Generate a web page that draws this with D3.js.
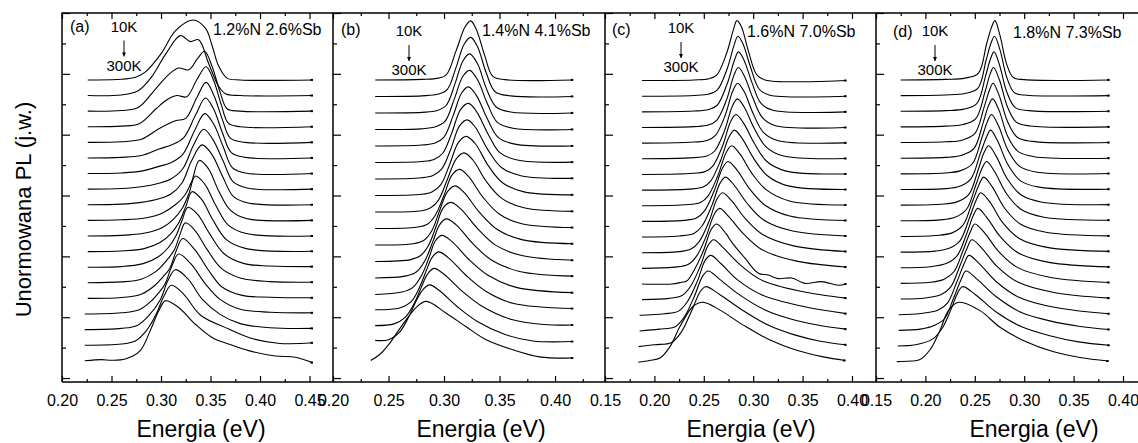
<!DOCTYPE html>
<html>
<head>
<meta charset="utf-8">
<script src="https://cdn.jsdelivr.net/npm/d3@7"></script>
<style>
  body { margin: 0; background: #fff; }
  svg { display: block; }
</style>
</head>
<body>
<script>
// ---- dane ----
const panelLetters = ["(a)", "(b)", "(c)", "(d)"];
const panelSamples = ["1.2%N 2.6%Sb", "1.4%N 4.1%Sb", "1.6%N 7.0%Sb", "1.8%N 7.3%Sb"];
const tempTop = "10K", tempBottom = "300K";
const xTitle = "Energia (eV)", yTitle = "Unormowana PL (j.w.)";

const ticksA = [0.20, 0.25, 0.30, 0.35, 0.40, 0.45];
const minorA = [0.225, 0.275, 0.325, 0.375, 0.425];
const ticksB = [0.20, 0.25, 0.30, 0.35, 0.40];
const minorB = [0.225, 0.275, 0.325, 0.375, 0.425];
const ticksC = [0.15, 0.20, 0.25, 0.30, 0.35, 0.40];
const minorC = [0.175, 0.225, 0.275, 0.325, 0.375];
const ticksD = [0.15, 0.20, 0.25, 0.30, 0.35, 0.40];
const minorD = [0.175, 0.225, 0.275, 0.325, 0.375, 0.425];
const ticksY = [0, 1, 2, 3, 4, 5, 6, 7, 8, 9, 10, 11, 12];

// widma [energia eV, intensywnosc znormalizowana], od 10K (gora) do 300K (dol)
const specA = [
  [[0.226,0],[0.26,0.01],[0.275,0.05],[0.284,0.13],[0.301,0.46],[0.3145,0.82],[0.3323,1],[0.345,0.86],[0.352,0.55],[0.358,0.24],[0.3667,0.03],[0.38,0],[0.453,0]],
  [[0.226,0],[0.26,0.01],[0.277,0.08],[0.29,0.3],[0.305,0.7],[0.3195,1],[0.3296,0.9],[0.338,0.93],[0.348,0.54],[0.358,0.16],[0.365,0.03],[0.38,0],[0.453,0]],
  [[0.226,0],[0.26,0.01],[0.277,0.06],[0.294,0.36],[0.3077,0.61],[0.3178,0.72],[0.328,0.69],[0.337,0.88],[0.344,1],[0.3515,0.75],[0.36,0.3],[0.3667,0.04],[0.38,0],[0.453,0]],
  [[0.226,0],[0.26,0.01],[0.278,0.05],[0.295,0.3],[0.306,0.45],[0.316,0.52],[0.326,0.5],[0.336,0.78],[0.3455,1],[0.353,0.78],[0.361,0.36],[0.368,0.06],[0.38,0],[0.453,0]],
  [[0.226,0],[0.26,0.01],[0.28,0.05],[0.297,0.22],[0.3145,0.36],[0.325,0.4],[0.336,0.74],[0.3455,1],[0.353,0.8],[0.362,0.38],[0.37,0.07],[0.385,0],[0.453,0]],
  [[0.226,0],[0.26,0.01],[0.28,0.04],[0.298,0.15],[0.311,0.22],[0.323,0.34],[0.335,0.72],[0.3448,1],[0.353,0.82],[0.362,0.42],[0.371,0.09],[0.385,0.01],[0.453,0]],
  [[0.226,0],[0.26,0.01],[0.28,0.04],[0.298,0.12],[0.31,0.18],[0.322,0.32],[0.334,0.72],[0.3441,1],[0.353,0.83],[0.363,0.44],[0.372,0.1],[0.385,0.01],[0.453,0]],
  [[0.226,0],[0.26,0.01],[0.28,0.04],[0.298,0.1],[0.31,0.17],[0.322,0.34],[0.333,0.74],[0.3431,1],[0.352,0.84],[0.363,0.46],[0.373,0.12],[0.387,0.02],[0.453,0]],
  [[0.226,0],[0.26,0.01],[0.28,0.04],[0.298,0.1],[0.31,0.18],[0.321,0.36],[0.331,0.74],[0.3414,1],[0.351,0.85],[0.362,0.48],[0.373,0.14],[0.388,0.03],[0.453,0]],
  [[0.226,0],[0.26,0.01],[0.284,0.04],[0.301,0.12],[0.3145,0.26],[0.324,0.42],[0.331,0.65],[0.3387,1],[0.348,0.86],[0.358,0.5],[0.37,0.17],[0.386,0.03],[0.453,0]],
  [[0.226,0],[0.26,0.01],[0.284,0.05],[0.3,0.13],[0.312,0.27],[0.321,0.45],[0.328,0.7],[0.3347,1],[0.344,0.87],[0.355,0.52],[0.368,0.18],[0.386,0.04],[0.453,0]],
  [[0.226,0],[0.26,0.01],[0.283,0.05],[0.299,0.15],[0.31,0.3],[0.318,0.48],[0.325,0.75],[0.3313,1],[0.341,0.87],[0.352,0.54],[0.366,0.2],[0.386,0.05],[0.453,0.005]],
  [[0.226,0],[0.26,0.01],[0.282,0.06],[0.297,0.17],[0.307,0.32],[0.315,0.52],[0.321,0.77],[0.3273,1],[0.337,0.88],[0.349,0.56],[0.364,0.22],[0.384,0.06],[0.41,0.02],[0.453,0.01]],
  [[0.226,0],[0.26,0.015],[0.28,0.06],[0.295,0.19],[0.306,0.38],[0.3135,0.55],[0.319,0.8],[0.3246,1],[0.334,0.88],[0.346,0.57],[0.361,0.24],[0.38,0.08],[0.41,0.02],[0.453,0.01]],
  [[0.226,0],[0.26,0.015],[0.28,0.07],[0.294,0.22],[0.302,0.36],[0.3088,0.5],[0.3155,0.8],[0.3219,1],[0.3347,0.8],[0.348,0.47],[0.3616,0.19],[0.382,0.05],[0.41,0.02],[0.453,0.01]],
  [[0.223,0],[0.26,0.02],[0.278,0.07],[0.291,0.23],[0.298,0.36],[0.304,0.5],[0.311,0.8],[0.3178,1],[0.33,0.84],[0.345,0.5],[0.36,0.24],[0.38,0.08],[0.41,0.03],[0.453,0.02]],
  [[0.223,0],[0.26,0.02],[0.276,0.07],[0.288,0.24],[0.2993,0.5],[0.307,0.82],[0.3145,1],[0.327,0.85],[0.342,0.5],[0.36,0.25],[0.38,0.1],[0.41,0.03],[0.453,0.02]],
  [[0.223,0],[0.26,0.02],[0.274,0.07],[0.285,0.24],[0.2946,0.5],[0.303,0.82],[0.3104,1],[0.323,0.85],[0.34,0.5],[0.3684,0.27],[0.39,0.12],[0.42,0.03],[0.453,0.04]],
  [[0.223,0],[0.24,0.02],[0.25,0.01],[0.264,0.03],[0.279,0.17],[0.289,0.5],[0.2976,0.83],[0.3044,1],[0.3178,0.89],[0.3347,0.61],[0.3515,0.39],[0.3684,0.28],[0.3886,0.17],[0.4155,0.08],[0.4357,0.06],[0.453,-0.03]]
];

const specB = [
  [[0.238,0],[0.28,0.01],[0.295,0.03],[0.302,0.085],[0.311,0.5],[0.319,0.9],[0.324,1],[0.329,0.86],[0.337,0.39],[0.344,0.06],[0.355,0.005],[0.416,0]],
  [[0.238,0],[0.28,0.01],[0.295,0.04],[0.303,0.12],[0.311,0.5],[0.318,0.88],[0.324,1],[0.33,0.85],[0.338,0.4],[0.346,0.08],[0.36,0.01],[0.416,0]],
  [[0.238,0],[0.28,0.01],[0.294,0.04],[0.302,0.13],[0.31,0.5],[0.317,0.88],[0.323,1],[0.33,0.84],[0.338,0.42],[0.347,0.1],[0.36,0.015],[0.416,0]],
  [[0.238,0],[0.28,0.01],[0.293,0.05],[0.301,0.14],[0.309,0.5],[0.317,0.9],[0.323,1],[0.33,0.85],[0.339,0.44],[0.348,0.12],[0.362,0.02],[0.416,0]],
  [[0.238,0],[0.28,0.015],[0.292,0.05],[0.3,0.15],[0.308,0.5],[0.316,0.9],[0.322,1],[0.329,0.86],[0.339,0.46],[0.349,0.14],[0.364,0.03],[0.416,0]],
  [[0.238,0],[0.28,0.015],[0.291,0.05],[0.299,0.16],[0.307,0.5],[0.315,0.9],[0.322,1],[0.329,0.87],[0.34,0.47],[0.35,0.17],[0.366,0.04],[0.416,0.005]],
  [[0.238,0],[0.28,0.02],[0.29,0.06],[0.298,0.17],[0.306,0.5],[0.314,0.9],[0.321,1],[0.328,0.88],[0.34,0.48],[0.352,0.19],[0.37,0.05],[0.416,0.01]],
  [[0.238,0],[0.28,0.02],[0.289,0.06],[0.297,0.18],[0.305,0.52],[0.313,0.9],[0.32,1],[0.328,0.88],[0.34,0.5],[0.353,0.21],[0.372,0.06],[0.416,0.01]],
  [[0.238,0],[0.28,0.02],[0.288,0.07],[0.295,0.2],[0.303,0.55],[0.311,0.9],[0.318,1],[0.326,0.88],[0.338,0.52],[0.352,0.23],[0.372,0.07],[0.416,0.01]],
  [[0.238,0],[0.275,0.02],[0.285,0.07],[0.292,0.22],[0.3,0.56],[0.307,0.9],[0.314,1],[0.322,0.88],[0.335,0.53],[0.35,0.24],[0.37,0.08],[0.416,0.015]],
  [[0.238,0],[0.272,0.02],[0.282,0.08],[0.289,0.24],[0.296,0.58],[0.303,0.9],[0.31,1],[0.318,0.89],[0.332,0.55],[0.348,0.26],[0.37,0.09],[0.416,0.02]],
  [[0.238,0],[0.27,0.03],[0.279,0.1],[0.286,0.27],[0.293,0.6],[0.299,0.9],[0.306,1],[0.315,0.89],[0.33,0.56],[0.346,0.28],[0.37,0.1],[0.416,0.02]],
  [[0.238,0],[0.265,0.03],[0.275,0.1],[0.283,0.3],[0.29,0.62],[0.296,0.9],[0.302,1],[0.311,0.9],[0.326,0.58],[0.343,0.3],[0.368,0.11],[0.416,0.03]],
  [[0.238,0],[0.262,0.04],[0.272,0.12],[0.28,0.33],[0.287,0.65],[0.292,0.9],[0.298,1],[0.307,0.9],[0.322,0.6],[0.34,0.32],[0.365,0.12],[0.416,0.03]],
  [[0.238,0.02],[0.26,0.05],[0.27,0.15],[0.277,0.36],[0.284,0.68],[0.289,0.9],[0.295,1],[0.304,0.9],[0.32,0.6],[0.338,0.33],[0.362,0.13],[0.416,0.04]],
  [[0.238,0.03],[0.255,0.06],[0.265,0.17],[0.273,0.4],[0.28,0.7],[0.285,0.9],[0.291,1],[0.3,0.9],[0.316,0.62],[0.335,0.35],[0.36,0.14],[0.39,0.05],[0.416,0.04]],
  [[0.238,0.06],[0.25,0.07],[0.26,0.2],[0.268,0.45],[0.275,0.73],[0.281,0.92],[0.287,1],[0.296,0.9],[0.312,0.63],[0.33,0.38],[0.355,0.16],[0.38,0.05],[0.416,0.04]],
  [[0.234,0],[0.242,0.1],[0.251,0.29],[0.258,0.48],[0.266,0.69],[0.275,0.9],[0.284,1],[0.302,0.8],[0.32,0.57],[0.338,0.35],[0.362,0.18],[0.386,0.06],[0.416,0.04]]
];

const specC = [
  [[0.1875,0],[0.24,0.01],[0.255,0.03],[0.263,0.09],[0.273,0.45],[0.28,0.85],[0.2835,1],[0.288,0.9],[0.295,0.5],[0.3035,0.1],[0.312,0.01],[0.394,0]],
  [[0.1875,0],[0.24,0.012],[0.255,0.035],[0.2635,0.1],[0.2735,0.45],[0.2808,0.86],[0.2845,1],[0.2895,0.88],[0.297,0.5],[0.306,0.12],[0.316,0.02],[0.394,0]],
  [[0.1875,0],[0.24,0.013],[0.255,0.04],[0.2635,0.11],[0.2735,0.46],[0.281,0.86],[0.285,1],[0.2905,0.87],[0.2985,0.5],[0.308,0.14],[0.32,0.025],[0.394,0]],
  [[0.1875,0],[0.24,0.014],[0.2545,0.04],[0.263,0.12],[0.273,0.46],[0.2805,0.87],[0.285,1],[0.291,0.86],[0.2995,0.5],[0.3095,0.16],[0.3225,0.03],[0.394,0]],
  [[0.1875,0],[0.235,0.014],[0.2533,0.045],[0.2618,0.13],[0.2718,0.47],[0.2793,0.87],[0.2843,1],[0.2908,0.86],[0.2998,0.5],[0.3103,0.18],[0.3253,0.04],[0.394,0.005]],
  [[0.1875,0],[0.235,0.015],[0.253,0.045],[0.261,0.13],[0.271,0.47],[0.2787,0.87],[0.284,1],[0.291,0.86],[0.301,0.51],[0.313,0.2],[0.33,0.05],[0.394,0.005]],
  [[0.1875,0],[0.235,0.015],[0.2516,0.05],[0.2591,0.14],[0.2691,0.48],[0.2771,0.88],[0.2826,1],[0.2901,0.86],[0.3011,0.52],[0.3136,0.22],[0.3326,0.06],[0.394,0.008]],
  [[0.1875,0],[0.235,0.016],[0.2494,0.05],[0.2569,0.15],[0.2669,0.49],[0.2754,0.88],[0.2809,1],[0.2889,0.86],[0.3004,0.53],[0.3144,0.24],[0.3354,0.07],[0.394,0.01]],
  [[0.1875,0],[0.23,0.016],[0.2467,0.055],[0.2542,0.16],[0.2642,0.5],[0.2727,0.89],[0.2782,1],[0.2867,0.86],[0.2987,0.54],[0.3137,0.26],[0.3367,0.08],[0.394,0.012]],
  [[0.1875,0],[0.23,0.017],[0.2425,0.055],[0.2505,0.17],[0.2605,0.51],[0.269,0.89],[0.2745,1],[0.2835,0.86],[0.296,0.55],[0.312,0.27],[0.337,0.09],[0.394,0.015]],
  [[0.1875,0],[0.225,0.018],[0.24,0.06],[0.248,0.18],[0.258,0.52],[0.2665,0.9],[0.272,1],[0.281,0.86],[0.294,0.56],[0.311,0.28],[0.34,0.1],[0.394,0.017]],
  [[0.1875,0],[0.225,0.018],[0.237,0.06],[0.2455,0.19],[0.2555,0.53],[0.2635,0.9],[0.269,1],[0.2785,0.86],[0.292,0.57],[0.31,0.3],[0.342,0.11],[0.394,0.02]],
  [[0.1875,0],[0.22,0.02],[0.234,0.065],[0.2425,0.2],[0.2525,0.54],[0.2605,0.9],[0.266,1],[0.2755,0.86],[0.29,0.58],[0.309,0.31],[0.344,0.12],[0.394,0.022]],
  [[0.1875,0],[0.2175,0],[0.2276,0.03],[0.2327,0.05],[0.2395,0.21],[0.2495,0.55],[0.2575,0.91],[0.263,1],[0.2725,0.84],[0.2782,0.7],[0.2917,0.43],[0.3052,0.18],[0.3153,0.15],[0.3254,0.09],[0.3389,0.1],[0.3524,0.01],[0.3693,0.04],[0.3862,-0.02],[0.394,0]],
  [[0.1875,0],[0.215,0.022],[0.228,0.07],[0.2365,0.22],[0.2465,0.56],[0.2545,0.91],[0.26,1],[0.27,0.86],[0.2855,0.6],[0.308,0.33],[0.348,0.14],[0.394,0.026]],
  [[0.185,0],[0.21,0.025],[0.2245,0.07],[0.2335,0.23],[0.2435,0.57],[0.2515,0.92],[0.257,1],[0.2675,0.86],[0.2835,0.6],[0.309,0.34],[0.35,0.15],[0.394,0.028]],
  [[0.185,0],[0.205,0.03],[0.221,0.07],[0.2305,0.24],[0.2405,0.58],[0.249,0.92],[0.2545,1],[0.2655,0.87],[0.2855,0.61],[0.312,0.35],[0.338,0.2],[0.365,0.1],[0.394,0.03]],
  [[0.184,0],[0.2,0.03],[0.2175,0.07],[0.2275,0.25],[0.2375,0.59],[0.2465,0.92],[0.252,1],[0.266,0.87],[0.288,0.62],[0.315,0.36],[0.341,0.2],[0.368,0.09],[0.394,0.03]],
  [[0.1837,0],[0.195,0.03],[0.2057,0.07],[0.2158,0.26],[0.226,0.6],[0.239,0.93],[0.2495,1],[0.2664,0.87],[0.29,0.62],[0.317,0.37],[0.344,0.2],[0.371,0.09],[0.393,0.03]]
];

const specD = [
  [[0.175,0],[0.22,0.01],[0.24,0.03],[0.2535,0.11],[0.262,0.61],[0.267,0.89],[0.2704,1],[0.2755,0.75],[0.282,0.28],[0.289,0.04],[0.3,0.005],[0.386,0]],
  [[0.175,0],[0.22,0.01],[0.24,0.035],[0.253,0.12],[0.2615,0.6],[0.2665,0.89],[0.27,1],[0.2755,0.77],[0.2825,0.3],[0.29,0.05],[0.3,0.01],[0.386,0]],
  [[0.175,0],[0.22,0.01],[0.239,0.035],[0.252,0.13],[0.261,0.6],[0.266,0.89],[0.2695,1],[0.275,0.78],[0.2825,0.32],[0.291,0.06],[0.305,0.01],[0.386,0]],
  [[0.175,0],[0.22,0.012],[0.238,0.04],[0.251,0.14],[0.2605,0.6],[0.2655,0.89],[0.269,1],[0.275,0.79],[0.283,0.34],[0.292,0.08],[0.306,0.015],[0.386,0]],
  [[0.175,0],[0.22,0.012],[0.237,0.04],[0.25,0.15],[0.2595,0.6],[0.265,0.89],[0.2685,1],[0.2745,0.8],[0.283,0.36],[0.293,0.09],[0.308,0.02],[0.386,0]],
  [[0.175,0],[0.22,0.013],[0.236,0.045],[0.249,0.16],[0.2585,0.6],[0.264,0.89],[0.268,1],[0.2745,0.81],[0.283,0.38],[0.294,0.11],[0.31,0.025],[0.386,0]],
  [[0.175,0],[0.22,0.014],[0.235,0.05],[0.2475,0.17],[0.257,0.6],[0.263,0.89],[0.267,1],[0.274,0.81],[0.2835,0.4],[0.295,0.13],[0.312,0.03],[0.386,0.005]],
  [[0.175,0],[0.22,0.015],[0.234,0.05],[0.246,0.18],[0.2555,0.6],[0.262,0.89],[0.266,1],[0.273,0.82],[0.2835,0.42],[0.296,0.15],[0.315,0.04],[0.386,0.005]],
  [[0.175,0],[0.215,0.015],[0.232,0.055],[0.244,0.18],[0.2535,0.6],[0.2595,0.89],[0.264,1],[0.2715,0.83],[0.283,0.44],[0.297,0.17],[0.318,0.05],[0.386,0.008]],
  [[0.175,0],[0.215,0.016],[0.23,0.06],[0.2415,0.19],[0.251,0.6],[0.2575,0.89],[0.262,1],[0.27,0.83],[0.282,0.46],[0.297,0.19],[0.32,0.06],[0.386,0.01]],
  [[0.175,0],[0.21,0.016],[0.227,0.06],[0.238,0.19],[0.2475,0.58],[0.2545,0.88],[0.259,1],[0.2675,0.84],[0.28,0.48],[0.296,0.21],[0.322,0.07],[0.386,0.01]],
  [[0.175,0],[0.21,0.017],[0.224,0.065],[0.235,0.19],[0.2445,0.57],[0.2515,0.88],[0.256,1],[0.265,0.85],[0.278,0.5],[0.295,0.23],[0.323,0.08],[0.386,0.012]],
  [[0.175,0],[0.205,0.018],[0.221,0.07],[0.232,0.2],[0.2415,0.56],[0.2485,0.88],[0.253,1],[0.262,0.85],[0.276,0.52],[0.294,0.25],[0.325,0.09],[0.386,0.014]],
  [[0.175,0],[0.205,0.018],[0.219,0.07],[0.229,0.2],[0.238,0.55],[0.2455,0.87],[0.25,1],[0.2595,0.86],[0.274,0.54],[0.293,0.27],[0.327,0.1],[0.386,0.015]],
  [[0.175,0],[0.2,0.018],[0.216,0.075],[0.2255,0.2],[0.2345,0.54],[0.2425,0.87],[0.247,1],[0.257,0.86],[0.2725,0.55],[0.293,0.29],[0.33,0.11],[0.386,0.016]],
  [[0.173,0],[0.195,0.02],[0.213,0.08],[0.2225,0.2],[0.2315,0.54],[0.2395,0.87],[0.244,1],[0.2545,0.86],[0.2715,0.56],[0.294,0.3],[0.332,0.12],[0.386,0.016]],
  [[0.173,0],[0.195,0.02],[0.21,0.09],[0.2195,0.2],[0.2285,0.54],[0.2365,0.87],[0.241,1],[0.2525,0.86],[0.2715,0.57],[0.296,0.31],[0.326,0.16],[0.355,0.07],[0.386,0.015]],
  [[0.172,0],[0.19,0.02],[0.2075,0.12],[0.217,0.3],[0.2255,0.6],[0.232,0.87],[0.2375,1],[0.251,0.86],[0.272,0.57],[0.298,0.32],[0.327,0.17],[0.355,0.07],[0.386,0.012]],
  [[0.171,0],[0.185,0.01],[0.194,0.03],[0.2047,0.2],[0.2148,0.53],[0.2233,0.86],[0.2337,1],[0.2553,0.86],[0.2755,0.58],[0.3025,0.33],[0.329,0.17],[0.3565,0.07],[0.385,0.01]]
];

// ---- uklad ----
const width = 1138, height = 443;
const frameTop = 13, frameBottom = 382;
const font = "Arial, 'Liberation Sans', sans-serif";

const panels = [
  { spec: specA, ticks: ticksA, minor: minorA, left: 62,  right: 333,  e0: 0.20, e1: 0.4737,
    base: 9.80, step: 0.513, amp: 1.97, letterX: 70,  topY: 31.5, sampleX: 213,  sampleY: 35, tempX: 124, tempY: 31.5, titleX: 201 },
  { spec: specB, ticks: ticksB, minor: minorB, left: 333, right: 605,  e0: 0.20, e1: 0.445,
    base: 9.80, step: 0.5424, amp: 1.94, letterX: 341, topY: 35,   sampleX: 482,  sampleY: 36, tempX: 409, tempY: 36,   titleX: 481 },
  { spec: specC, ticks: ticksC, minor: minorC, left: 605, right: 876,  e0: 0.15, e1: 0.4243,
    base: 9.78, step: 0.5145, amp: 1.97, letterX: 612, topY: 35,   sampleX: 747,  sampleY: 37, tempX: 681, tempY: 33,   titleX: 751 },
  { spec: specD, ticks: ticksD, minor: minorD, left: 876, right: 1147, e0: 0.15, e1: 0.4243,
    base: 9.80, step: 0.5145, amp: 1.95, letterX: 893, topY: 37,   sampleX: 1013, sampleY: 38, tempX: 935, tempY: 36,   titleX: 1034 }
];

const svg = d3.select("body").append("svg")
  .attr("width", width)
  .attr("height", height)
  .attr("viewBox", [0, 0, width, height])
  .style("font-family", font);

const y = d3.scaleLinear([-0.13, 12.0], [frameBottom, frameTop]);

svg.append("defs").append("marker")
  .attr("id", "arrowHead")
  .attr("viewBox", [0, 0, 10, 10])
  .attr("refX", 5).attr("refY", 10)
  .attr("markerWidth", 4).attr("markerHeight", 6)
  .attr("markerUnits", "userSpaceOnUse")
  .append("path")
  .attr("d", "M0,0L10,0L5,10Z")
  .attr("fill", "#000");

panels.forEach((p, pi) => {
  const x = d3.scaleLinear([p.e0, p.e1], [p.left, p.right]);
  const g = svg.append("g").attr("class", "panel" + pi);

  // widma
  const line = (k) => d3.line()
    .x(d => x(d[0]))
    .y(d => y(p.base - k * p.step + p.amp * d[1]))
    .curve(d3.curveCatmullRom.alpha(0.5));

  const curves = g.append("g")
    .attr("fill", "none")
    .attr("stroke", "#000")
    .attr("stroke-width", 1.1);
  p.spec.forEach((s, k) => {
    curves.append("path").attr("d", line(k)(s));
  });
  // znaczniki koncow
  g.append("g").selectAll("rect")
    .data(p.spec.map((s, k) => ({ e: s[s.length - 1][0], v: p.base - k * p.step + p.amp * s[s.length - 1][1] })))
    .join("rect")
    .attr("x", d => x(d.e) - 2)
    .attr("y", d => y(d.v) - 1)
    .attr("width", 2.5)
    .attr("height", 2)
    .attr("fill", "#000");

  // os dolna
  g.append("g")
    .attr("transform", `translate(0,${frameBottom})`)
    .call(d3.axisBottom(x).tickValues(p.ticks).tickSize(-6).tickPadding(13).tickFormat(d3.format(".2f")))
    .call(a => a.select(".domain").remove())
    .call(a => a.selectAll("text").attr("font-size", 16).attr("font-family", font).attr("fill", "#000"));
  g.append("g")
    .attr("transform", `translate(0,${frameBottom})`)
    .call(d3.axisBottom(x).tickValues(p.minor).tickSize(-3).tickFormat(""))
    .call(a => a.select(".domain").remove());

  // os gorna
  g.append("g")
    .attr("transform", `translate(0,${frameTop})`)
    .call(d3.axisTop(x).tickValues(p.ticks).tickSize(-6).tickFormat(""))
    .call(a => a.select(".domain").remove());
  g.append("g")
    .attr("transform", `translate(0,${frameTop})`)
    .call(d3.axisTop(x).tickValues(p.minor).tickSize(-3).tickFormat(""))
    .call(a => a.select(".domain").remove());

  // os lewa
  g.append("g")
    .attr("transform", `translate(${p.left},0)`)
    .call(d3.axisLeft(y).tickValues(ticksY.filter(t => t % 2 === 0)).tickSize(-8).tickFormat(""))
    .call(a => a.select(".domain").remove());
  g.append("g")
    .attr("transform", `translate(${p.left},0)`)
    .call(d3.axisLeft(y).tickValues(ticksY.filter(t => t % 2 === 1)).tickSize(-4).tickFormat(""))
    .call(a => a.select(".domain").remove());

  g.selectAll(".tick line").attr("stroke", "#000").attr("stroke-width", 1.2);

  // ramka
  g.append("path")
    .attr("d", `M${p.left},${frameBottom}V${frameTop}H${Math.min(p.right, width + 2)}M${p.left},${frameBottom}H${Math.min(p.right, width + 2)}`)
    .attr("fill", "none")
    .attr("stroke", "#000")
    .attr("stroke-width", 1.5);

  // opisy
  g.append("text")
    .attr("x", p.letterX).attr("y", p.topY)
    .attr("font-size", 16)
    .text(panelLetters[pi]);
  g.append("text")
    .attr("x", p.sampleX).attr("y", p.sampleY)
    .attr("font-size", 16)
    .text(panelSamples[pi]);
  g.append("text")
    .attr("x", p.tempX).attr("y", p.tempY)
    .attr("text-anchor", "middle")
    .attr("font-size", 15)
    .text(tempTop);
  g.append("text")
    .attr("x", p.tempX).attr("y", p.tempY + 39)
    .attr("text-anchor", "middle")
    .attr("font-size", 15)
    .text(tempBottom);
  g.append("line")
    .attr("x1", p.tempX).attr("x2", p.tempX)
    .attr("y1", p.tempY + 9).attr("y2", p.tempY + 25)
    .attr("stroke", "#000")
    .attr("stroke-width", 1)
    .attr("marker-end", "url(#arrowHead)");

  g.append("text")
    .attr("x", p.titleX).attr("y", 437)
    .attr("text-anchor", "middle")
    .attr("font-size", 23)
    .text(xTitle);
});

svg.append("text")
  .attr("transform", `translate(31,${(frameTop + frameBottom) / 2 + 12}) rotate(-90)`)
  .attr("text-anchor", "middle")
  .attr("font-size", 22)
  .text(yTitle);
</script>
</body>
</html>
